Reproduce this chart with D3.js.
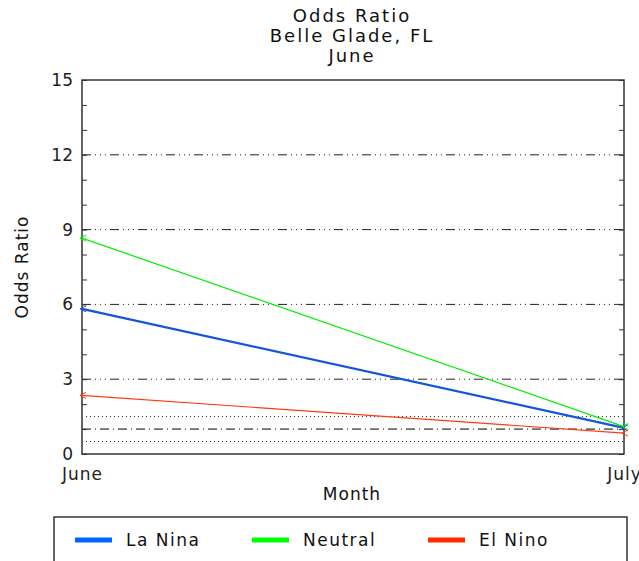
<!DOCTYPE html>
<html lang="en">
<head>
    <meta charset="UTF-8">
    <script src="https://d3js.org/d3.v7.min.js"></script>
    <style>
        body { margin: 0; background: #fff; }
        text {
            font-family: "DejaVu Sans", sans-serif;
            fill: #111;
        }
    </style>
</head>
<body>
    <svg id="chart" width="639" height="561"></svg>
    <script>
        // data
        const months = ["June", "July"];
        const series = ["La Nina", "Neutral", "El Nino"];
        const laNina = [5.82, 1.05];
        const neutral = [8.66, 1.1];
        const elNino = [2.35, 0.84];
        const yTicks = [0, 3, 6, 9, 12, 15];
        const gridMajor = [3, 6, 9, 12];
        const gridDashDot = [1];
        const gridDotted = [0.5, 1.5];

        const colors = { "La Nina": "#1455d9", "Neutral": "#00ee00", "El Nino": "#ff3a10" };
        const legendColors = { "La Nina": "#0066ff", "Neutral": "#00ff00", "El Nino": "#ff2a00" };
        const values = { "La Nina": laNina, "Neutral": neutral, "El Nino": elNino };

        const width = 639, height = 561;
        const margin = { top: 80, right: 15, bottom: 107, left: 82 };

        const svg = d3.select("#chart");

        const x = d3.scalePoint()
            .domain(months)
            .range([margin.left, width - margin.right]);

        const y = d3.scaleLinear()
            .domain([0, 15])
            .range([height - margin.bottom, margin.top]);

        // title
        const titles = ["Odds Ratio", "Belle Glade, FL", "June"];
        svg.selectAll(".title")
            .data(titles)
            .enter().append("text")
            .attr("class", "title")
            .attr("x", 352)
            .attr("y", (d, i) => 22 + i * 20)
            .attr("text-anchor", "middle")
            .style("font-size", "18px")
            .style("letter-spacing", "2px")
            .text(d => d);

        // reference lines
        svg.selectAll(".gmaj")
            .data(gridMajor)
            .enter().append("line")
            .attr("x1", margin.left).attr("x2", width - margin.right)
            .attr("y1", d => y(d)).attr("y2", d => y(d))
            .attr("stroke", "#222").attr("stroke-width", 1)
            .attr("stroke-dasharray", "9,4,1,4,1,4,1,4");

        svg.selectAll(".gdd")
            .data(gridDashDot)
            .enter().append("line")
            .attr("x1", margin.left).attr("x2", width - margin.right)
            .attr("y1", d => y(d)).attr("y2", d => y(d))
            .attr("stroke", "#000").attr("stroke-width", 1)
            .attr("stroke-dasharray", "9,4,1,4");

        svg.selectAll(".gdot")
            .data(gridDotted)
            .enter().append("line")
            .attr("x1", margin.left + 4).attr("x2", width - margin.right)
            .attr("y1", d => y(d)).attr("y2", d => y(d))
            .attr("stroke", "#222").attr("stroke-width", 1)
            .attr("stroke-dasharray", "1,3");

        // axes
        const yAxisL = svg.append("g")
            .attr("transform", `translate(${margin.left},0)`)
            .call(d3.axisLeft(y).tickValues(d3.range(0, 16)).tickSize(-5)
                .tickFormat(d => yTicks.includes(d) ? d : ""));
        yAxisL.selectAll(".tick line").attr("stroke", "#333");
        yAxisL.selectAll(".tick text")
            .attr("x", -9)
            .style("font-size", "17px")
            .style("fill", "#222");

        const yAxisR = svg.append("g")
            .attr("transform", `translate(${width - margin.right},0)`)
            .call(d3.axisRight(y).tickValues(d3.range(0, 16)).tickSize(-5).tickFormat(""));
        yAxisR.selectAll(".tick line").attr("stroke", "#333");

        [yAxisL, yAxisR].forEach(g => g.select(".domain").remove());

        // frame
        svg.append("rect")
            .attr("x", margin.left).attr("y", margin.top)
            .attr("width", width - margin.right - margin.left)
            .attr("height", height - margin.bottom - margin.top)
            .attr("fill", "none").attr("stroke", "#333").attr("stroke-width", 1.5);

        const xAxis = svg.append("g")
            .attr("transform", `translate(0,${height - margin.bottom})`)
            .call(d3.axisBottom(x).tickSize(0).tickPadding(14));
        xAxis.select(".domain").remove();
        xAxis.selectAll(".tick text")
            .style("font-size", "17px")
            .style("letter-spacing", "1px")
            .style("fill", "#222");

        svg.append("text")
            .attr("x", 352).attr("y", 500)
            .attr("text-anchor", "middle")
            .style("font-size", "17px")
            .style("letter-spacing", "1px")
            .text("Month");

        svg.append("text")
            .attr("transform", `translate(28,${y(7.5)}) rotate(-90)`)
            .attr("text-anchor", "middle")
            .style("font-size", "17px")
            .style("letter-spacing", "1px")
            .text("Odds Ratio");

        // series
        const line = d3.line()
            .x((d, i) => x(months[i]))
            .y(d => y(d));

        series.forEach(s => {
            svg.append("path")
                .datum(values[s])
                .attr("d", line)
                .attr("fill", "none")
                .attr("stroke", colors[s])
                .attr("stroke-width", s === "La Nina" ? 2.2 : 1.2);

            svg.selectAll(null)
                .data(values[s])
                .enter().append("path")
                .attr("transform", (d, i) => `translate(${x(months[i])},${y(d)})`)
                .attr("d", "M4,-3L-2,0L4,3")
                .attr("fill", "none")
                .attr("stroke", colors[s])
                .attr("stroke-width", 1);
        });

        // legend
        svg.append("rect")
            .attr("x", 54).attr("y", 517)
            .attr("width", 573).attr("height", 60)
            .attr("fill", "none").attr("stroke", "#333").attr("stroke-width", 1.5);

        const legendX = [75, 252, 428];
        const lg = svg.selectAll(".lg")
            .data(series)
            .enter().append("g")
            .attr("transform", (d, i) => `translate(${legendX[i]},540)`);
        lg.append("line")
            .attr("x1", 0).attr("x2", 37)
            .attr("stroke", d => legendColors[d]).attr("stroke-width", 5);
        lg.append("text")
            .attr("x", 51).attr("y", 6)
            .style("font-size", "17px")
            .style("letter-spacing", "1.5px")
            .text(d => d);
    </script>
</body>
</html>
